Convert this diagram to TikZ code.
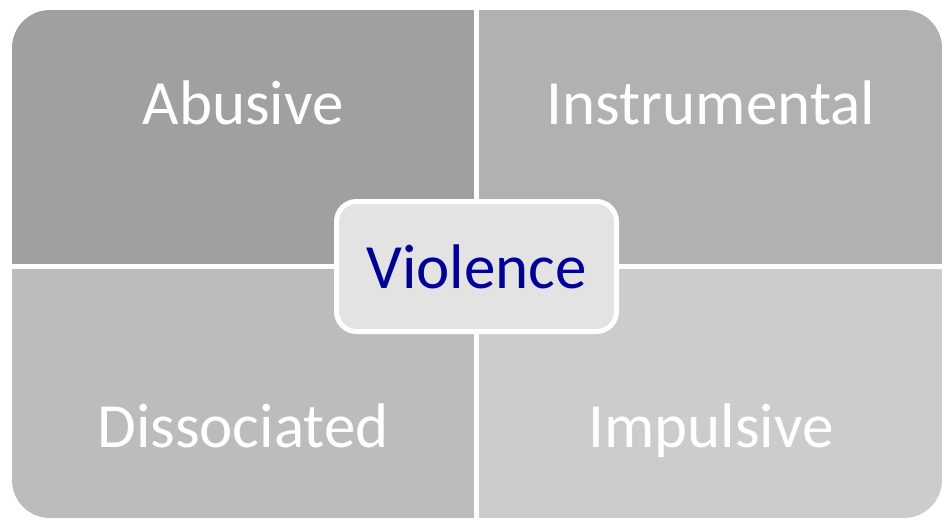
\documentclass[tikz,border=0pt]{standalone}
\usepackage{fontspec}
\setmainfont{Carlito}
\usepackage{xcolor}
\definecolor{quadA}{RGB}{160,160,160}
\definecolor{quadB}{RGB}{177,177,177}
\definecolor{quadC}{RGB}{188,188,188}
\definecolor{quadD}{RGB}{204,204,204}
\definecolor{hubFill}{RGB}{227,227,227}
\definecolor{hubText}{RGB}{0,0,153}

\begin{document}
\begin{tikzpicture}[%
    x=1pt, y=-1pt,
    quadName/.style={
      text=white,
      anchor=base,
      font=\fontsize{63}{70}\selectfont
    },
    hub/.style={
      rectangle,
      draw=white,
      line width=5pt,
      fill=hubFill,
      rounded corners=20pt,
      minimum width=280pt,
      minimum height=130pt,
      text=hubText,
      font=\fontsize{63}{70}\selectfont
    }
  ]
    \useasboundingbox (0,0) rectangle (949,520);

    % Quadrants, clipped to the big rounded background
    \begin{scope}
      \clip[rounded corners=38pt] (12,10) rectangle (942,518);
      \fill[quadA] (12,10) rectangle (474,264);
      \fill[quadB] (479,10) rectangle (942,264);
      \fill[quadC] (12,269) rectangle (474,518);
      \fill[quadD] (479,269) rectangle (942,518);
    \end{scope}

    \draw (243,124) node[quadName] (A) {Abusive}
          (711,124) node[quadName] (B) {Instrumental}
          (243,447) node[quadName] (C) {Dissociated}
          (711,447) node[quadName] (D) {Impulsive};

    \node[hub] (V) at (476.5,266.5) {Violence};
\end{tikzpicture}
\end{document}
